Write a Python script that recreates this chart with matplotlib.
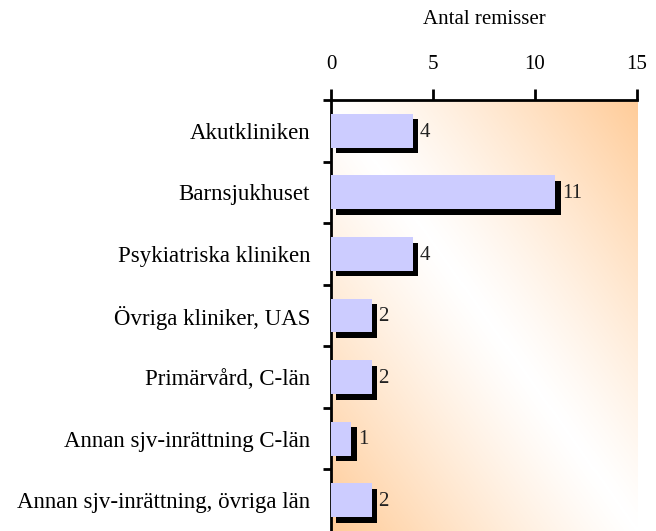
import numpy as np
import matplotlib.pyplot as plt
from matplotlib.colors import LinearSegmentedColormap

# Data
kategorier = ["Akutkliniken", "Barnsjukhuset", "Psykiatriska kliniken",
              "Övriga kliniker, UAS", "Primärvård, C-län",
              "Annan sjv-inrättning C-län", "Annan sjv-inrättning, övriga län"]
antal = [4, 11, 4, 2, 2, 1, 2]
xticks = [0, 5, 10, 15]

plt.rcParams['font.family'] = ['Liberation Serif', 'DejaVu Serif']

fig = plt.figure(figsize=(6.56, 5.31), dpi=100)
ax = fig.add_axes([331/656, 0.0, 306/656, 1 - 100/531])

# bakgrund: diagonal gradient (orange uppe höger / nere vänster)
u, v = np.meshgrid(np.linspace(0, 1, 300), np.linspace(0, 1, 300))
t = np.abs(u - v) ** 1.2
cmap = LinearSegmentedColormap.from_list("bg", ["#FFFFFF", "#FFCC99"])
ax.imshow(t, cmap=cmap, extent=[0, 1, 0, 1], transform=ax.transAxes,
          aspect='auto', zorder=0, origin='upper', vmin=0, vmax=1)

y = np.arange(len(kategorier))
h = 0.55
dx, dy = 0.25, 0.09
# skugga
ax.barh(y + dy, np.array(antal) + 0.02, left=dx, height=h, color='black', zorder=2)
ax.barh(y, antal, height=h, color='#CCCCFF', zorder=3)

for yi, val in zip(y, antal):
    ax.text(val + dx + 0.07, yi + 0.02, str(val), va='center', ha='left',
            fontsize=15, color='#222222', zorder=4)

ax.set_xlim(0, 15)
ax.set_ylim(len(kategorier) - 0.5, -0.5)
ax.set_xticks(xticks)
ax.xaxis.tick_top()
ax.xaxis.set_label_position('top')
ax.set_xlabel("Antal remisser", fontsize=15, labelpad=22)
ax.tick_params(axis='x', direction='out', length=8, width=2, labelsize=15, pad=11)

ax.set_yticks(y)
ax.set_yticklabels(kategorier, fontsize=16.5)
ax.set_yticks(np.arange(len(kategorier)) - 0.5, minor=True)
ax.tick_params(axis='y', which='major', length=0, pad=15)
ax.tick_params(axis='y', which='minor', direction='out', length=6, width=2)

for s in ['right', 'bottom']:
    ax.spines[s].set_visible(False)
for s in ['top', 'left']:
    ax.spines[s].set_linewidth(2)

fig.savefig("out.png", dpi=100)
